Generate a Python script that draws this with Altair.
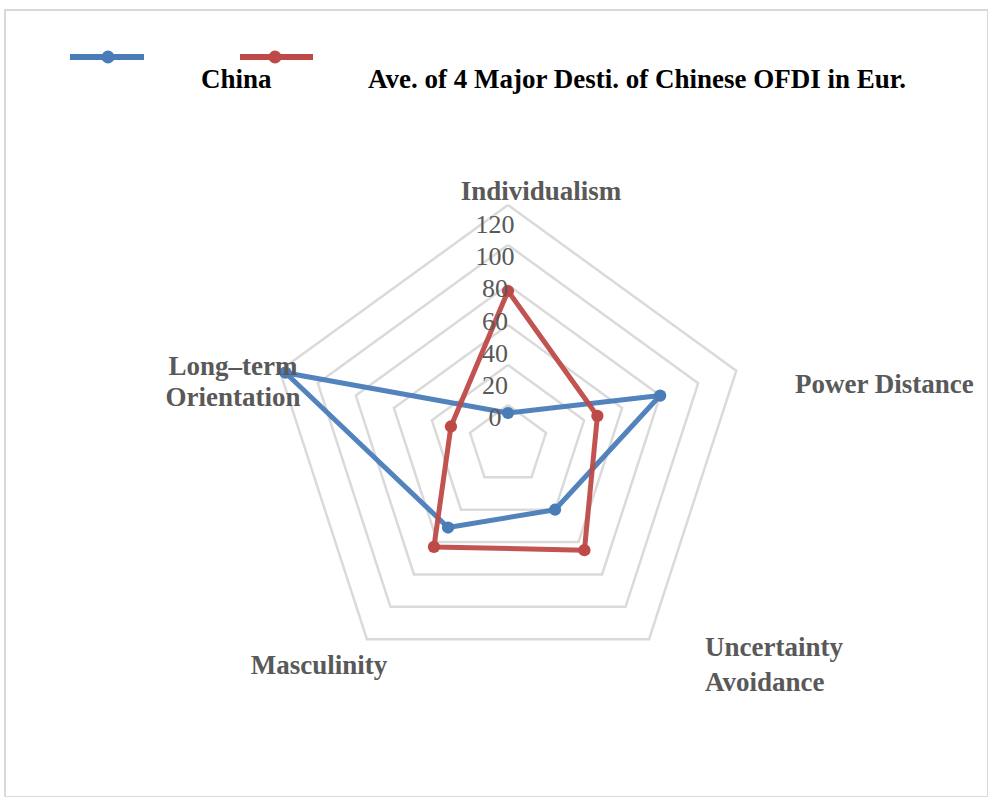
import math

import altair as alt
import pandas as pd

# Cultural dimension scores (Hofstede) for China and the average of the
# four main European destinations of Chinese outward FDI.
categories = [
    "Individualism",
    "Power Distance",
    "Uncertainty Avoidance",
    "Masculinity",
    "Long-term Orientation",
]
china = [16, 80, 40, 51, 117]
europe_avg = [77, 47, 65, 63, 30]
series_names = ["China", "Ave. of 4 Major Desti. of Chinese OFDI in Eur."]
ring_levels = [20, 40, 60, 80, 100, 120]
tick_values = [0, 20, 40, 60, 80, 100, 120]

BLUE = "#4A7CB8"
RED = "#BE4A48"
GRID = "#DADADA"
LABEL_GREY = "#595959"
FONT = "Liberation Serif"


def polygon(values, **extra):
    """Closed polygon vertices for a radar trace (first vertex repeated)."""
    n = len(values)
    rows = []
    for k in range(n + 1):
        i = k % n
        ang = 2 * math.pi * i / n
        rows.append(
            dict(
                order=k,
                category=categories[i],
                value=values[i],
                x=values[i] * math.sin(ang),
                y=values[i] * math.cos(ang),
                closing=k == n,
                **extra,
            )
        )
    return rows


series_rows = polygon(china, series=series_names[0]) + polygon(
    europe_avg, series=series_names[1]
)
series_df = pd.DataFrame(series_rows)

ring_rows = []
for lvl in ring_levels:
    ring_rows += polygon([lvl] * len(categories), level=lvl)
ring_df = pd.DataFrame(ring_rows)

tick_df = pd.DataFrame({"tick": tick_values, "text": [str(t) for t in tick_values]})

x_scale = alt.Scale(domain=[-251.5, 240], nice=False, zero=False)
y_scale = alt.Scale(domain=[-176, 217.5], nice=False, zero=False)
X = alt.X("x:Q", scale=x_scale, axis=None)
Y = alt.Y("y:Q", scale=y_scale, axis=None)
color = alt.Color(
    "series:N",
    scale=alt.Scale(domain=series_names, range=[BLUE, RED]),
    legend=None,
)

rings = (
    alt.Chart(ring_df)
    .mark_line(stroke=GRID, strokeWidth=2.5)
    .encode(x=X, y=Y, detail="level:N", order="order:Q")
)

lines = (
    alt.Chart(series_df)
    .mark_line(strokeWidth=5, strokeJoin="round", opacity=0.95)
    .encode(x=X, y=Y, color=color, detail="series:N", order="order:Q")
)

points = (
    alt.Chart(series_df)
    .transform_filter("!datum.closing")
    .mark_circle(size=150, opacity=1)
    .encode(x=X, y=Y, color=color)
)

# Radial value labels stacked along the Individualism axis
ticks = (
    alt.Chart(tick_df)
    .mark_text(font=FONT, fontSize=26, color=LABEL_GREY, align="center", baseline="middle")
    .encode(
        x=alt.value(490),
        y=alt.Y("tick:Q", scale=alt.Scale(domain=[0, 120], range=[408, 215]), axis=None),
        text="text:N",
    )
)


def label(text, x, y, align="center", color=LABEL_GREY, line_height=32, size=27):
    return (
        alt.Chart(pd.DataFrame({"t": [text]}))
        .mark_text(
            font=FONT,
            fontSize=size,
            fontWeight="bold",
            color=color,
            align=align,
            baseline="middle",
            lineBreak="\n",
            lineHeight=line_height,
        )
        .encode(x=alt.value(x), y=alt.value(y), text="t:N")
    )


axis_labels = [
    label("Individualism", 536, 182),
    label("Power Distance", 790, 375, align="left"),
    label("Uncertainty\nAvoidance", 700, 638, align="left", line_height=35),
    label("Masculinity", 314, 656),
    label("Long\u2013term\nOrientation", 228, 357, line_height=31),
]

# Legend drawn as marks: line-with-marker symbols above their labels
legend_layers = []
for name, col, x0, x1, xc, tx in [
    (series_names[0], BLUE, 65, 139, 103, 196),
    (series_names[1], RED, 235, 308, 270, 363),
]:
    legend_layers.append(
        alt.Chart(pd.DataFrame({"s": [name]}))
        .mark_rule(color=col, strokeWidth=6)
        .encode(x=alt.value(x0), x2=alt.value(x1), y=alt.value(47))
    )
    legend_layers.append(
        alt.Chart(pd.DataFrame({"s": [name]}))
        .mark_circle(color=col, size=170, opacity=1)
        .encode(x=alt.value(xc), y=alt.value(47))
    )
    legend_layers.append(label(name, tx, 70, align="left", color="#000000", size=27))

chart = (
    alt.layer(rings, lines, points, ticks, *axis_labels, *legend_layers)
    .resolve_scale(y="independent")
    .properties(
        width=983,
        height=787,
        padding={"left": 5, "top": 10, "right": 0, "bottom": 0},
        autosize=alt.AutoSizeParams(type="none"),
        background="#FFFFFF",
    )
    .configure_view(stroke="#D9D9D9", strokeWidth=2)
)

chart.save("out.html", embed_options={"renderer": "svg", "actions": False})
